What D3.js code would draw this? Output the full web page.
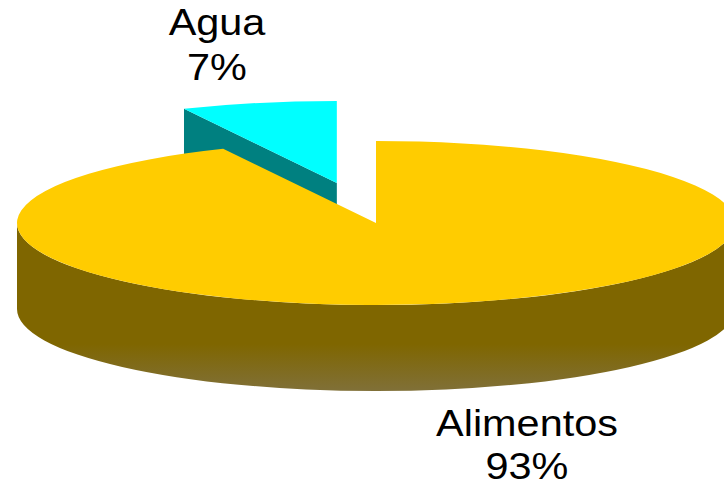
<!DOCTYPE html>
<html>
<head>
<meta charset="utf-8">
<script src="https://cdn.jsdelivr.net/npm/d3@7"></script>
<style>
  body { margin: 0; background: #fff; }
  svg { display: block; }
</style>
</head>
<body>
<svg width="724" height="489"></svg>
<script>
// data
const categories = ["Alimentos", "Agua"]
const values = [93, 7]
const labels = ["93%", "7%"]
const topColors = ["#ffcc00", "#00ffff"]
const sideColors = ["#7f6600", "#008080"]
const explode = [0, 0.5]

const svg = d3.select("svg")
const cx = 376, cy = 223
const rx = 359, ry = 82
const depth = 86

const pie = d3.pie().sort(null).value(d => d.v)
const arcs = pie(categories.map((c, i) => ({c: c, v: values[i], i: i})))

// point on ellipse, angle clockwise from 12 o'clock
function pt(a, ox, oy, dz) {
  return [ox + rx * Math.sin(a), oy - ry * Math.cos(a) + (dz || 0)]
}
function offset(d) {
  const m = (d.startAngle + d.endAngle) / 2
  const k = explode[d.data.i]
  return [cx + k * rx * Math.sin(m), cy - k * ry * Math.cos(m)]
}

const defs = svg.append("defs")
const grad = defs.append("linearGradient")
  .attr("id", "sideGrad")
  .attr("gradientUnits", "userSpaceOnUse")
  .attr("x1", 0).attr("x2", 0)
  .attr("y1", cy).attr("y2", cy + ry + depth)
grad.append("stop").attr("offset", "0.72").attr("stop-color", "#7f6600")
grad.append("stop").attr("offset", "1").attr("stop-color", "#807038")

const g = svg.append("g")

// draw exploded (back) slice first, then the main one
const order = arcs.slice().sort((a, b) => explode[b.data.i] - explode[a.data.i])

order.forEach(function (d) {
  const o = offset(d)
  const i = d.data.i
  const a0 = d.startAngle, a1 = d.endAngle
  const p0 = pt(a0, o[0], o[1]), p1 = pt(a1, o[0], o[1])
  const large = (a1 - a0) > Math.PI ? 1 : 0

  // radial face at start edge (visible when it faces the viewer)
  if (Math.cos(a0) > 0 && Math.sin(a0) < 0) {
    g.append("path")
      .attr("d", `M${o[0]},${o[1]}L${p0[0]},${p0[1]}L${p0[0]},${p0[1] + depth}L${o[0]},${o[1] + depth}Z`)
      .attr("fill", sideColors[i])
  }

  // outer curved side, front half only
  const s0 = Math.max(a0, Math.PI / 2), s1 = Math.min(a1, 3 * Math.PI / 2)
  if (s1 > s0) {
    const q0 = pt(s0, o[0], o[1]), q1 = pt(s1, o[0], o[1])
    g.append("path")
      .attr("d", `M${q0[0]},${q0[1]}A${rx},${ry} 0 0 1 ${q1[0]},${q1[1]}` +
        `L${q1[0]},${q1[1] + depth}A${rx},${ry} 0 0 0 ${q0[0]},${q0[1] + depth}Z`)
      .attr("fill", i === 0 ? "url(#sideGrad)" : sideColors[i])
  }

  // top face
  g.append("path")
    .attr("d", `M${o[0]},${o[1]}L${p0[0]},${p0[1]}A${rx},${ry} 0 ${large} 1 ${p1[0]},${p1[1]}Z`)
    .attr("fill", topColors[i])
})

// labels (the original text is a little wider than Arial, so stretch it)
const labelPos = [[527, 436], [217, 35]]
arcs.forEach(function (d) {
  const i = d.data.i
  const t = svg.append("text")
    .attr("transform", `translate(${labelPos[i][0]},${labelPos[i][1]}) scale(1.12,1)`)
    .attr("text-anchor", "middle")
    .attr("font-family", "Liberation Sans, Arial, sans-serif")
    .attr("font-size", 37)
    .attr("fill", "#000")
  t.append("tspan").attr("x", 0).text(categories[i])
  t.append("tspan").attr("x", 0).attr("dy", i === 0 ? 43 : 45).text(labels[i])
})
</script>
</body>
</html>
